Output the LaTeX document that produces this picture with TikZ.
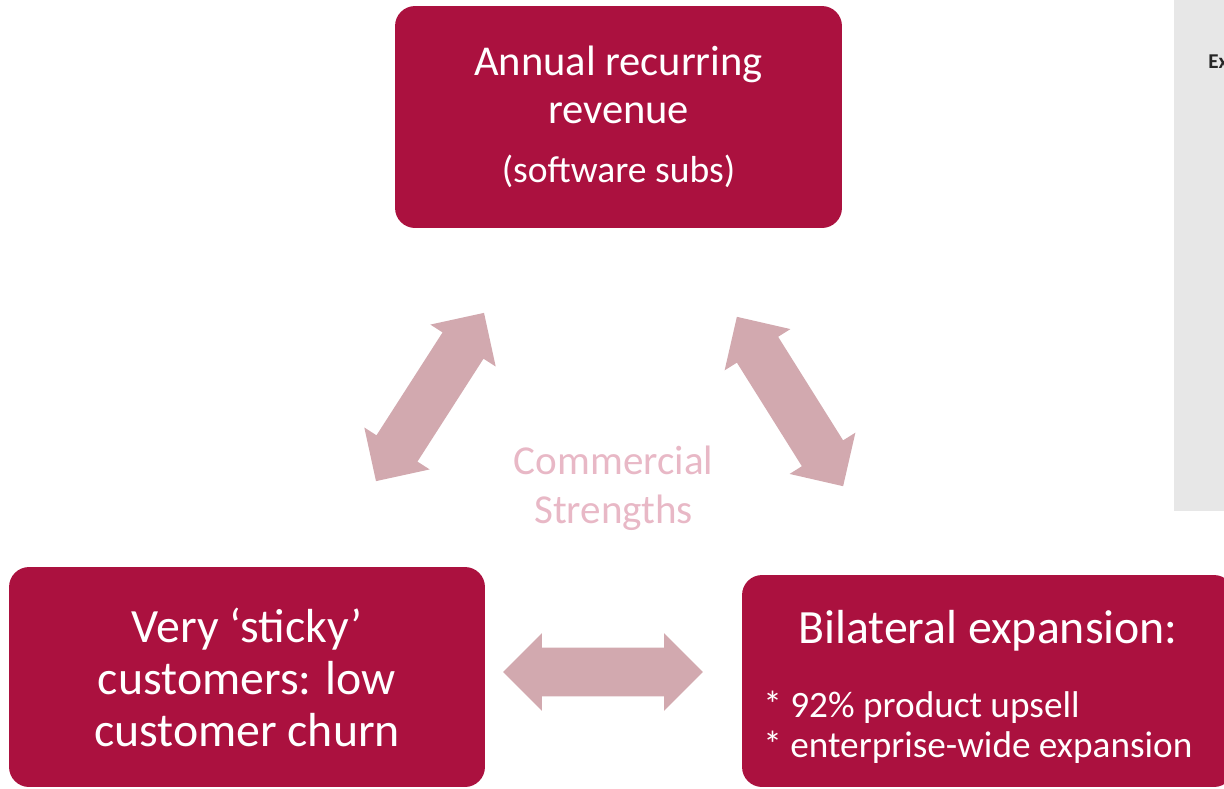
\documentclass[tikz,border=0pt]{standalone}
\usepackage{fontspec}
\setmainfont{Carlito}
\usepackage{xcolor}
\usetikzlibrary{shapes.arrows,positioning}

\definecolor{crimson}{HTML}{AB113F}
\definecolor{arrowpink}{HTML}{D2A9AF}
\definecolor{labelpink}{HTML}{E8B8C6}
\definecolor{panelgray}{HTML}{E7E7E7}

\begin{document}
\begin{tikzpicture}[x=0.02cm, y=-0.02cm,
    box/.style={fill=crimson, rounded corners=0.4cm, text=white, align=center, inner sep=0pt},
    boxtext/.style={inner sep=0pt, text=white},
    bigarrow/.style={double arrow, fill=arrowpink, inner xsep=0pt, inner ysep=0.48cm,
        minimum height=4cm, double arrow head extend=0.29cm}]
    \clip (0,0) rectangle (1224,788);

    % grey side panel
    \fill[panelgray] (1174,0) rectangle (1224,511);
    \node[anchor=base west, inner sep=0pt, font=\bfseries\fontsize{12}{14}\selectfont, text=black!85] (ex) at (1208,68) {Ex};

    % the three strengths
    \node[box, minimum width=8.94cm, minimum height=4.44cm, font=\fontsize{24.2}{27}\selectfont] (arr) at (618.5,117)
        {Annual recurring\\revenue\\[7pt]{\fontsize{21.4}{24}\selectfont (software subs)}};
    \node[box, minimum width=9.52cm, minimum height=4.4cm, font=\fontsize{27.2}{29.6}\selectfont] (sticky) at (247,677)
        {Very ‘sticky’\\customers: low\\customer churn};
    \node[box, minimum width=9.84cm, minimum height=4.24cm] (expand) at (988,681) {};
    \node[boxtext, anchor=base, font=\fontsize{27.2}{30}\selectfont] (exptitle) at (988,643) {Bilateral expansion:};
    \node[boxtext, anchor=base west, font=\fontsize{21.2}{22.8}\selectfont] (explist1) at (763,717) {* 92\% product upsell};
    \node[boxtext, anchor=base west, font=\fontsize{21.2}{22.8}\selectfont] (explist2) at (763,757) {* enterprise-wide expansion};

    % centre label
    \node[align=center, text=labelpink, font=\fontsize{23.4}{27.9}\selectfont] (centre) at (613.5,488) {Commercial\\Strengths};

    % double arrows
    \node[bigarrow, rotate=57.3] (leftarrow) at (430,397) {};
    \node[bigarrow, rotate=-57.9] (rightarrow) at (790,401.5) {};
    \node[bigarrow] (bottomarrow) at (603,672) {};
\end{tikzpicture}
\end{document}
